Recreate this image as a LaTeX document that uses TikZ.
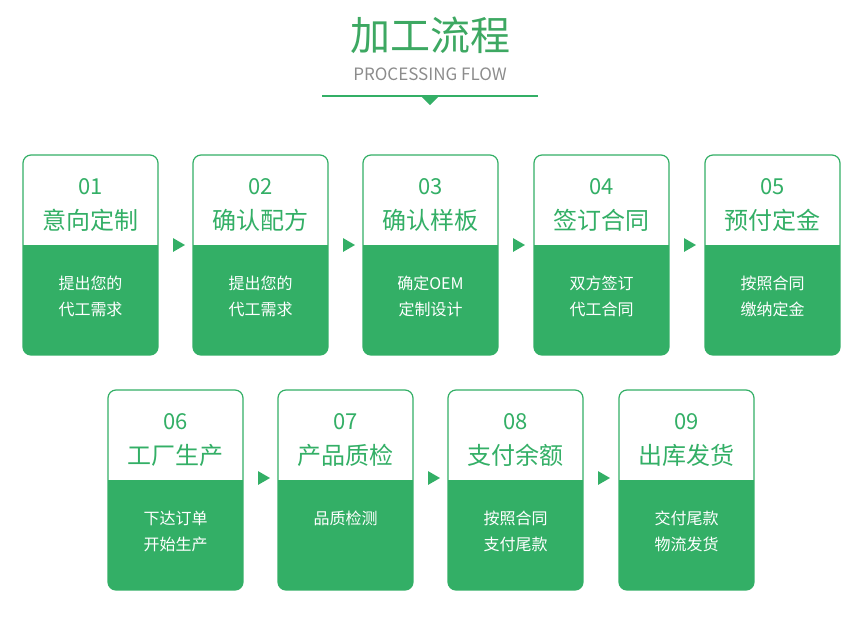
\documentclass[tikz,border=0pt]{standalone}
\usepackage{fontspec}
\setmainfont{Noto Sans CJK SC}
\usetikzlibrary{shapes.geometric}
\definecolor{flowgreen}{HTML}{33AF66}
\definecolor{titlegreen}{HTML}{3DA862}
\definecolor{subgray}{HTML}{8C8C8C}

\begin{document}
\begin{tikzpicture}[x=1pt, y=-1pt,
        num_style/.style={text=flowgreen, font=\fontsize{22}{24}\selectfont},
        head_style/.style={text=flowgreen, font=\fontsize{24}{26}\selectfont},
        body_style/.style={text=white, align=center, font=\fontsize{16}{26}\selectfont},
        arrow_style/.style={isosceles triangle, fill=flowgreen, inner sep=0pt, minimum height=12pt, minimum width=13pt, isosceles triangle apex angle=60}]
        \useasboundingbox (0,0) rectangle (863,622);

        \node [text=titlegreen, font=\fontsize{40}{42}\selectfont](title) at (430,35) {加工流程};
        \node [text=subgray, font=\fontsize{17}{19}\selectfont](subtitle) at (430,74) {PROCESSING FLOW};
        \coordinate (ruleL) at (322,96);
        \coordinate (ruleR) at (538,96);
        \draw [flowgreen, line width=2pt] (ruleL) -- (ruleR);
        \fill [flowgreen] (421,96) -- (439,96) -- (430,105) -- cycle;

        % cards: x, y, number, heading, body
        \foreach \x/\y/\num/\head/\body [count=\i] in {
            23/155/01/意向定制/{提出您的\\代工需求},
            193/155/02/确认配方/{提出您的\\代工需求},
            363/155/03/确认样板/{确定OEM\\定制设计},
            534/155/04/签订合同/{双方签订\\代工合同},
            705/155/05/预付定金/{按照合同\\缴纳定金},
            108/390/06/工厂生产/{下达订单\\开始生产},
            278/390/07/产品质检/{品质检测\\\phantom{品}},
            448/390/08/支付余额/{按照合同\\支付尾款},
            619/390/09/出库发货/{交付尾款\\物流发货}} {
            \begin{scope}
                \clip [rounded corners=8pt] (\x,\y) rectangle ++(135,200);
                \fill [white] (\x,\y) rectangle ++(135,200);
                \fill [flowgreen] (\x,\y+90) rectangle ++(135,110);
            \end{scope}
            \draw [flowgreen, line width=1.2pt, rounded corners=8pt] (\x,\y) rectangle ++(135,200);
            \node [num_style](n\i) at (\x+67.5,\y+32) {\num};
            \node [head_style](h\i) at (\x+67.5,\y+65) {\head};
            \node [body_style](b\i) at (\x+67.5,\y+141) {\body};
        }

        % arrows between cards
        \foreach \ax/\ay [count=\j] in {177/245, 347/245, 517/245, 688/245, 262/478, 432/478, 602/478} {
            \node [arrow_style](a\j) at (\ax,\ay) {};
        }
\end{tikzpicture}
\end{document}
